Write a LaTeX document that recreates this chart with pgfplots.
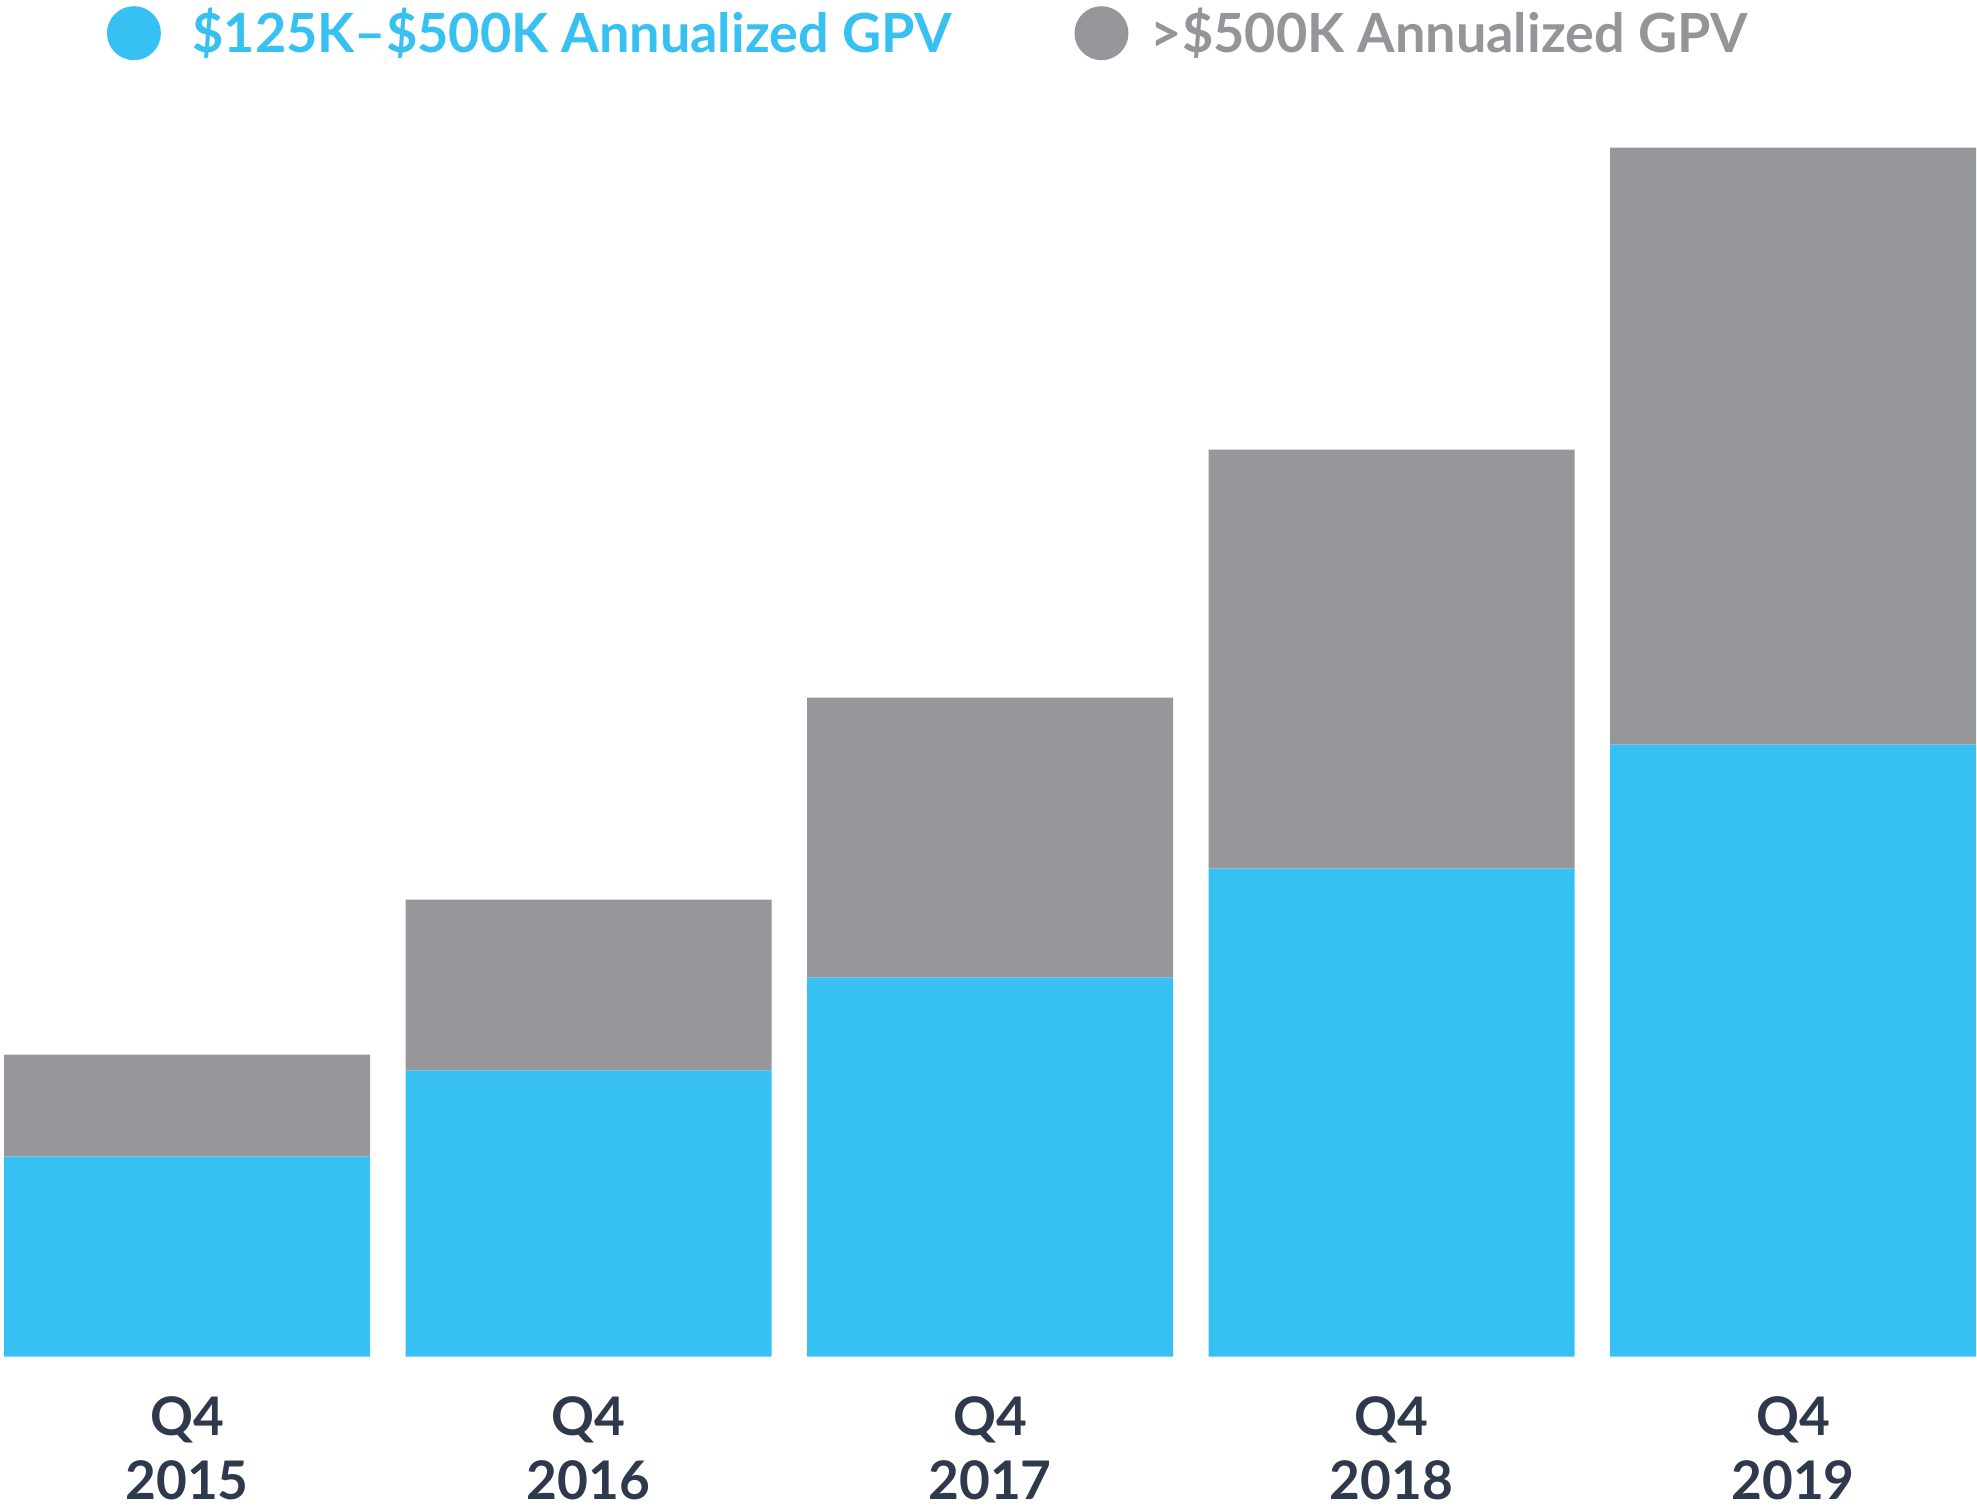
\documentclass[border=0pt]{standalone}
\usepackage{pgfplots}
\pgfplotsset{compat=1.18}
\usepackage{fontspec}
\setmainfont{Lato}
\definecolor{sqblue}{HTML}{37C1F3}
\definecolor{sqgray}{HTML}{96979B}
\definecolor{sqtext}{HTML}{2E3A4B}
\definecolor{sqlegray}{HTML}{939598}
\begin{document}
\begin{tikzpicture}
\begin{axis}[
  scale only axis,
  width=494.25bp, height=338.9bp,
  xmin=-0.4658, xmax=4.458,
  ymin=0, ymax=1355.7,
  ybar stacked,
  bar width=0.9116,
  axis line style={draw=none},
  major tick length=0pt,
  ytick=\empty,
  xtick=data,
  xticklabels={{Q4\\2015},{Q4\\2016},{Q4\\2017},{Q4\\2018},{Q4\\2019}},
  xticklabel style={align=center, font=\fontsize{13.3bp}{16bp}\selectfont\bfseries, text=sqtext, inner sep=0pt, anchor=north, yshift=-9.9bp},
  legend columns=2,
  legend style={draw=none, fill=none, inner sep=0pt, outer sep=0pt,
    at={(axis description cs:0.0541,0.997)}, anchor=north west, yshift=1.25bp,
    font=\fontsize{13.5bp}{16bp}\selectfont\bfseries,
    /tikz/every even column/.append style={column sep=0pt},
    /tikz/every odd column/.append style={column sep=0pt}},
  legend cell align=left,
]
\addplot[fill=sqblue, draw=none, legend image code/.code={\fill[sqblue] (6.75bp,0bp) circle (6.75bp);}] coordinates {(0,200) (1,286) (2,379) (3,488) (4,612)};
\addplot[fill=sqgray, draw=none, legend image code/.code={\fill[sqgray] (6.75bp,0bp) circle (6.75bp);}] coordinates {(0,102) (1,171) (2,280) (3,419) (4,597)};
\addlegendentry{\makebox[224.4bp][l]{\hspace{5.9bp}\textcolor{sqblue}{\$125K–\$500K Annualized GPV}}}
\addlegendentry{\makebox[160bp][l]{\hspace{3.6bp}\textcolor{sqlegray}{>\$500K Annualized GPV}}}
\end{axis}
\path (current bounding box.south west) ++(0,-2.5bp);
\end{tikzpicture}
\end{document}
